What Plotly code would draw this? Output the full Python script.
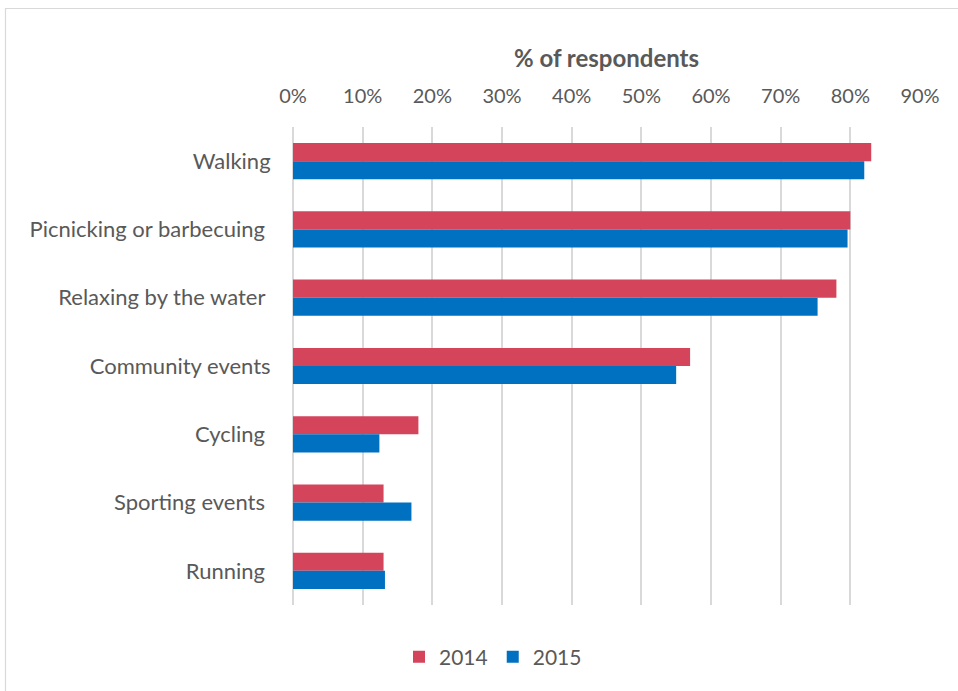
import plotly.graph_objects as go

# Activities, top to bottom
activities = [
    "Walking",
    "Picnicking or barbecuing\u00a0",
    "Relaxing by the water\u00a0",
    "Community events",
    "Cycling\u00a0",
    "Sporting events\u00a0",
    "Running\u00a0",
]
pct_2014 = [83, 80, 78, 57, 18, 13, 13]
pct_2015 = [82, 79.6, 75.3, 55, 12.4, 17, 13.2]
x_ticks = [0, 10, 20, 30, 40, 50, 60, 70, 80, 90]
x_tick_labels = [f"{t}%" for t in x_ticks]

W, H = 958, 691
M_L, M_R, M_T, M_B = 293, 38, 127, 86
plot_w = W - M_L - M_R
plot_h = H - M_T - M_B

RED = "#D4455C"
BLUE = "#0070C0"
TEXT = "#595959"
GRID = "#D9D9D9"
FONT = "Lato"

fig = go.Figure()
fig.add_trace(go.Bar(
    name="2014", y=activities, x=pct_2014, orientation="h",
    marker=dict(color=RED, line=dict(width=0)),
))
fig.add_trace(go.Bar(
    name="2015", y=activities, x=pct_2015, orientation="h",
    marker=dict(color=BLUE, line=dict(width=0)),
))


def px_x(px):
    return (px - M_L) / plot_w


def px_y(py):
    return (H - M_B - py) / plot_h


# Chart frame
fig.add_shape(
    type="rect", xref="paper", yref="paper",
    x0=px_x(5.5), x1=px_x(W + 20), y0=px_y(H + 20), y1=px_y(8.5),
    line=dict(color="#D9D9D9", width=1.2), fillcolor="rgba(0,0,0,0)",
    layer="below",
)

fig.update_layout(
    width=W, height=H,
    margin=dict(l=M_L, r=M_R, t=M_T, b=M_B),
    paper_bgcolor="white", plot_bgcolor="white",
    barmode="group", bargap=0.47, bargroupgap=0,
    font=dict(family=FONT, color=TEXT, size=20),
    showlegend=True,
    legend=dict(
        orientation="h", x=px_x(493), xanchor="center",
        y=px_y(657), yanchor="middle",
        font=dict(size=21, color=TEXT, family=FONT),
        itemwidth=30, traceorder="normal",
    ),
    xaxis=dict(
        side="top", range=[0, 90], tickvals=x_ticks, ticktext=x_tick_labels,
        showgrid=True, gridcolor=GRID, gridwidth=1.5,
        zeroline=True, zerolinecolor=GRID, zerolinewidth=1.5,
        showline=False, ticks="outside", ticklen=15, tickcolor="rgba(0,0,0,0)",
        tickfont=dict(size=20, color=TEXT, family=FONT),
        title=dict(text="<b>% of respondents</b>", standoff=8,
                   font=dict(size=24, color=TEXT, family=FONT)),
        fixedrange=True,
    ),
    yaxis=dict(
        autorange="reversed", showgrid=False, showline=False,
        ticks="outside", ticklen=17, tickcolor="rgba(0,0,0,0)",
        tickfont=dict(size=22, color=TEXT, family=FONT),
        fixedrange=True,
    ),
)

fig.write_html("out.html")
